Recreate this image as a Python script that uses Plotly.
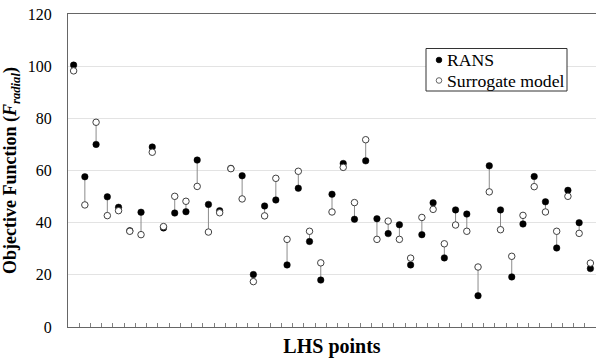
import plotly.graph_objects as go

# Objective function at each LHS sample point
rans = [100.4, 57.6, 70.0, 49.9, 45.9, 36.9, 44.0, 69.0, 38.0, 43.7,
        44.2, 64.0, 47.0, 44.6, 60.8, 58.0, 20.1, 46.4, 48.7, 23.8,
        53.2, 32.8, 18.0, 50.9, 62.7, 41.3, 63.7, 41.5, 35.8, 39.2,
        23.8, 35.4, 47.6, 26.5, 44.9, 43.3, 12.0, 61.8, 44.9, 19.2,
        39.5, 57.7, 48.0, 30.3, 52.4, 40.0, 22.4]
surrogate = [98.2, 46.8, 78.5, 42.7, 44.6, 36.7, 35.4, 67.0, 38.5, 50.1,
             48.2, 53.9, 36.4, 43.8, 60.7, 49.1, 17.4, 42.6, 57.0, 33.6,
             59.7, 36.7, 24.6, 44.1, 61.2, 47.7, 71.8, 33.6, 40.6, 33.6,
             26.4, 42.0, 45.1, 31.9, 39.1, 36.7, 23.0, 51.8, 37.3, 27.1,
             42.8, 53.8, 44.1, 36.7, 50.1, 35.9, 24.5]
series_names = ["RANS", "Surrogate model"]

n = len(rans)
pts = list(range(1, n + 1))

serif = "Liberation Serif"
W, H = 596, 362
ML, MR, MT, MB = 68, 0, 14, 35
PW, PH = W - ML - MR, H - MT - MB


def px_x(px):
    return (px - ML) / PW


def px_y(py):
    return (H - MB - py) / PH


# vertical connectors between the two estimates at each point
lx, ly = [], []
for i, (a, b) in enumerate(zip(rans, surrogate)):
    lx += [pts[i], pts[i], None]
    ly += [a, b, None]

fig = go.Figure()
fig.add_trace(go.Scatter(
    x=lx, y=ly, mode="lines", line=dict(color="#8c8c8c", width=1),
    hoverinfo="skip", showlegend=False))
fig.add_trace(go.Scatter(
    x=pts, y=rans, mode="markers", name=series_names[0], showlegend=False,
    marker=dict(symbol="circle", size=6.5, color="black",
                line=dict(color="black", width=0.5))))
fig.add_trace(go.Scatter(
    x=pts, y=surrogate, mode="markers", name=series_names[1], showlegend=False,
    marker=dict(symbol="circle", size=6.5, color="white",
                line=dict(color="#404040", width=1))))

# legend box with a symbol and label per series
shapes = [dict(type="rect", xref="paper", yref="paper",
               x0=px_x(426), x1=px_x(567), y0=px_y(91), y1=px_y(48.5),
               line=dict(color="#333", width=1), fillcolor="white", layer="above")]
annotations = []
styles = [("black", "black"), ("white", "#404040")]
for k, (name, (fill, edge)) in enumerate(zip(series_names, styles)):
    cy = 60 + k * 20.5
    r = 2.8
    shapes.append(dict(type="circle", xref="paper", yref="paper",
                       x0=px_x(439 - r), x1=px_x(439 + r),
                       y0=px_y(cy + r), y1=px_y(cy - r),
                       fillcolor=fill, line=dict(color=edge, width=0.8),
                       layer="above"))
    annotations.append(dict(xref="paper", yref="paper", x=px_x(445), y=px_y(cy),
                            xanchor="left", yanchor="middle", showarrow=False,
                            text=name, font=dict(family=serif, size=17.7, color="black")))

fig.update_layout(
    width=W, height=H,
    margin=dict(l=ML, r=MR, t=MT, b=MB),
    plot_bgcolor="white", paper_bgcolor="white",
    font=dict(family=serif, size=16, color="black"),
    shapes=shapes, annotations=annotations,
    xaxis=dict(
        range=[0.5, n + 0.5],
        tickvals=[p + 0.5 for p in pts[:-1]],
        ticktext=["" for _ in pts[:-1]],
        ticks="inside", ticklen=4, tickcolor="#808080", tickwidth=1,
        showgrid=False, zeroline=False,
        showline=True, linecolor="#666", linewidth=1, mirror=True,
        title=dict(text="<b>LHS points</b>", standoff=8,
                   font=dict(family=serif, size=20, color="black")),
    ),
    yaxis=dict(
        range=[0, 120], tickvals=[0, 20, 40, 60, 80, 100, 120],
        showgrid=True, gridcolor="#e3e3e3", gridwidth=1,
        zeroline=False, ticks="", ticklabelstandoff=12,
        showline=True, linecolor="#666", linewidth=1, mirror=True,
        tickfont=dict(family=serif, size=16, color="black"),
        title=dict(
            text="<b>Objective Function (<i>F</i><sub><i>radial</i></sub>)</b>",
            standoff=8, font=dict(family=serif, size=18, color="black")),
    ),
)

fig.write_html("out.html")
